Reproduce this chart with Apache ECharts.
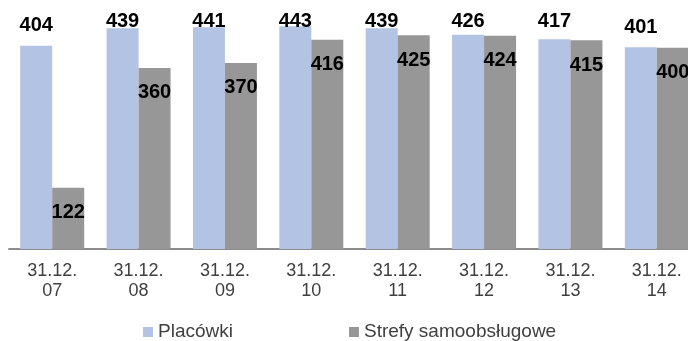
<!DOCTYPE html>
<html>
<head>
<meta charset="utf-8">
<script src="https://cdn.jsdelivr.net/npm/echarts@6/dist/echarts.min.js"></script>
<style>
  html, body { margin: 0; padding: 0; background: #fff; }
  #chart { width: 688px; height: 341px; }
</style>
</head>
<body>
<div id="chart"></div>
<script>
const categories = ['31.12.\n07', '31.12.\n08', '31.12.\n09', '31.12.\n10', '31.12.\n11', '31.12.\n12', '31.12.\n13', '31.12.\n14']
const placowki = [404, 439, 441, 443, 439, 426, 417, 401]
const strefy = [122, 360, 370, 416, 425, 424, 415, 400]

const font = '"Liberation Sans", Arial, sans-serif'
const lightColor = '#b3c3e3'
const darkColor = '#979797'

const chart = echarts.init(document.getElementById('chart'))

chart.setOption({
  animation: false,
  grid: { left: 9, right: -12, top: 0, bottom: 92, outerBoundsMode: 'none' },
  legend: {
    left: 143,
    top: 322,
    padding: 0,
    itemWidth: 10,
    itemHeight: 10,
    itemGap: 116,
    icon: 'rect',
    textStyle: { fontFamily: font, fontSize: 19, lineHeight: 20, color: '#404040' },
    data: ['Placówki', 'Strefy samoobsługowe']
  },
  xAxis: {
    type: 'category',
    data: categories,
    axisLine: { lineStyle: { color: '#8c8c8c', width: 2 } },
    axisTick: { length: 5, lineStyle: { color: '#8c8c8c', width: 2 } },
    axisLabel: {
      interval: 0,
      margin: 12,
      fontFamily: font,
      fontSize: 18,
      lineHeight: 20,
      color: '#404040'
    }
  },
  yAxis: { type: 'value', min: 0, max: 495, show: false },
  series: [
    {
      id: 'placowki',
      name: 'Placówki',
      type: 'bar',
      barWidth: 32,
      barGap: '0%',
      itemStyle: { color: lightColor },
      label: {
        show: true,
        position: 'top',
        align: 'center',
        verticalAlign: 'middle',
        fontFamily: font,
        fontSize: 20,
        fontWeight: 'bold',
        color: '#000'
      },
      data: placowki
    },
    {
      name: 'Strefy samoobsługowe',
      type: 'bar',
      barWidth: 32,
      itemStyle: { color: darkColor },
      label: {
        show: true,
        position: 'insideTop',
        distance: 15,
        fontFamily: font,
        fontSize: 20,
        fontWeight: 'bold',
        color: '#000'
      },
      data: strefy
    }
  ]
})

// value labels of the first series sit above the bar but never above the top band
const placed = placowki.map((v, i) => {
  const top = chart.convertToPixel({ gridIndex: 0 }, [i, v])[1]
  const cy = Math.max(21, top - 20)
  return { value: v, label: { position: ['50%', cy - top] } }
})
chart.setOption({ series: [{ id: 'placowki', data: placed }] })
</script>
</body>
</html>
